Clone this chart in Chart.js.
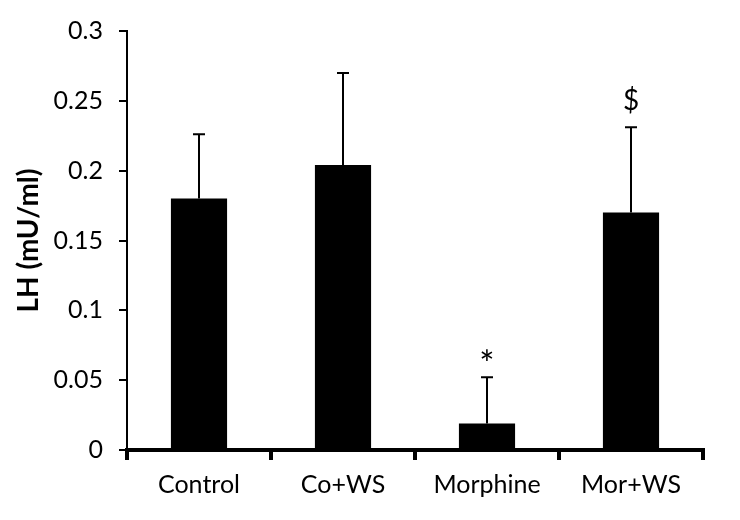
<!DOCTYPE html>
<html>
<head>
<meta charset="utf-8">
<script src="https://cdn.jsdelivr.net/npm/chart.js@4.4.1/dist/chart.umd.min.js"></script>
<style>
  html, body { margin: 0; padding: 0; background: #fff; }
  #wrap { width: 740px; height: 520px; }
</style>
</head>
<body>
<div id="wrap"><canvas id="c" width="740" height="520"></canvas></div>
<script>
const categories = ['Control', 'Co+WS', 'Morphine', 'Mor+WS'];
const meanValues = [0.18, 0.204, 0.019, 0.17];
const errorValues = [0.046, 0.066, 0.033, 0.061];
const significanceMarks = ['', '', '*', '$'];
const yTickValues = [0, 0.05, 0.1, 0.15, 0.2, 0.25, 0.3];
const yAxisTitle = 'LH (mU/ml)';

const FONT = 'Lato, "Open Sans", sans-serif';

const errorBarPlugin = {
  id: 'errorBars',
  afterDatasetsDraw(chart) {
    const ctx = chart.ctx;
    const meta = chart.getDatasetMeta(0);
    const y = chart.scales.y;
    ctx.save();
    ctx.strokeStyle = '#000';
    ctx.fillStyle = '#000';
    ctx.lineWidth = 2;
    meta.data.forEach((bar, i) => {
      const x = bar.x;
      const yTop = y.getPixelForValue(meanValues[i] + errorValues[i]);
      const yBase = y.getPixelForValue(meanValues[i]);
      ctx.beginPath();
      ctx.moveTo(x, yBase);
      ctx.lineTo(x, yTop);
      ctx.moveTo(x - 6, yTop);
      ctx.lineTo(x + 6, yTop);
      ctx.stroke();
      const mark = significanceMarks[i];
      if (mark) {
        ctx.textAlign = 'center';
        ctx.textBaseline = 'alphabetic';
        if (mark === '*') {
          ctx.font = '36px ' + FONT;
          ctx.fillText(mark, x, yTop);
        } else {
          ctx.font = '28px ' + FONT;
          ctx.fillText(mark, x, yTop - 17);
        }
      }
    });
    ctx.restore();
  }
};

new Chart(document.getElementById('c'), {
  type: 'bar',
  data: {
    labels: categories,
    datasets: [{
      data: meanValues,
      backgroundColor: '#000',
      borderWidth: 0,
      categoryPercentage: 1.0,
      barPercentage: 0.39
    }]
  },
  options: {
    responsive: false,
    animation: false,
    devicePixelRatio: 1,
    layout: { padding: { top: 30, right: 37, left: 0, bottom: 0 } },
    plugins: {
      legend: { display: false },
      tooltip: { enabled: false }
    },
    scales: {
      x: {
        grid: {
          offset: true,
          drawOnChartArea: false,
          drawTicks: true,
          tickLength: 10,
          lineWidth: 4,
          color: '#000'
        },
        border: { display: true, color: '#000', width: 4 },
        ticks: {
          color: '#000',
          font: { family: FONT, size: 25 },
          padding: 10,
          maxRotation: 0
        },
        afterFit(scale) { scale.height = 70; }
      },
      y: {
        min: 0,
        max: 0.3,
        afterBuildTicks(scale) {
          scale.ticks = yTickValues.map(v => ({ value: v }));
        },
        grid: {
          drawOnChartArea: false,
          drawTicks: true,
          tickLength: 8,
          lineWidth: 2,
          color: '#000'
        },
        border: { display: true, color: '#000', width: 2 },
        ticks: {
          color: '#000',
          font: { family: FONT, size: 25 },
          padding: 16,
          callback: (v) => String(Math.round(v * 100) / 100)
        },
        title: {
          display: true,
          text: yAxisTitle,
          color: '#000',
          font: { family: FONT, size: 28, weight: 'bold' },
          padding: { top: 12, bottom: 4 }
        },
        afterFit(scale) { scale.width = 127; }
      }
    }
  },
  plugins: [errorBarPlugin]
});
</script>
</body>
</html>
